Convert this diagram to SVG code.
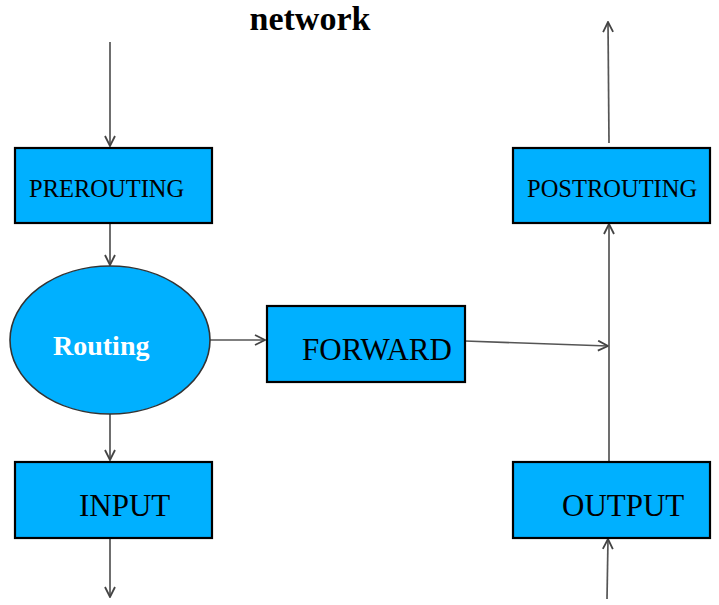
<svg xmlns="http://www.w3.org/2000/svg" width="719" height="605" viewBox="0 0 719 605">
<style>
.box{fill:#00b0ff;stroke:#000;stroke-width:2.2}
.ell{fill:#00b0ff;stroke:#333;stroke-width:1.6}
.lbl{font-family:"Liberation Serif",serif;fill:#000}
.conn{stroke:#555;stroke-width:1.7;fill:none;marker-end:url(#arr)}
</style>
<defs>
<marker id="arr" viewBox="0 0 12 12" refX="11" refY="6" markerWidth="12" markerHeight="12" markerUnits="userSpaceOnUse" orient="auto">
<path d="M1,1 L11,6 L1,11" fill="none" stroke="#444" stroke-width="1.8"/>
</marker>
</defs>
<rect width="719" height="605" fill="#fff"/>
<text x="310" y="30" text-anchor="middle" font-family="Liberation Serif,serif" font-weight="bold" font-size="34">network</text>
<g id="connectors">
<line class="conn" x1="110" y1="42" x2="110" y2="146"/>
<line class="conn" x1="110" y1="223" x2="110" y2="265"/>
<line class="conn" x1="210" y1="340" x2="265" y2="340"/>
<line class="conn" x1="110" y1="414" x2="110" y2="460"/>
<line class="conn" x1="110" y1="538" x2="110" y2="597"/>
<line class="conn" x1="465" y1="341" x2="608" y2="346"/>
<line class="conn" x1="609" y1="462" x2="609" y2="224"/>
<line class="conn" x1="609" y1="143" x2="608" y2="22"/>
<line class="conn" x1="607" y1="599" x2="608" y2="539"/>
</g>
<g id="prerouting">
<rect class="box" x="15" y="148" width="197" height="75"/>
<text class="lbl" x="29" y="197" font-size="24.5">PREROUTING</text>
</g>
<g id="routing">
<ellipse class="ell" cx="110" cy="340" rx="100" ry="74"/>
<text x="53" y="355" font-family="Liberation Serif,serif" font-weight="bold" font-size="28" fill="#fff">Routing</text>
</g>
<g id="forward">
<rect class="box" x="267" y="306" width="198" height="76"/>
<text class="lbl" x="302" y="360" font-size="31">FORWARD</text>
</g>
<g id="input">
<rect class="box" x="15" y="462" width="197" height="76"/>
<text class="lbl" x="79" y="516" font-size="31">INPUT</text>
</g>
<g id="postrouting">
<rect class="box" x="513" y="148" width="197" height="75"/>
<text class="lbl" x="527" y="197" font-size="24.5">POSTROUTING</text>
</g>
<g id="output">
<rect class="box" x="513" y="462" width="197" height="76"/>
<text class="lbl" x="562" y="516" font-size="31">OUTPUT</text>
</g>
</svg>
